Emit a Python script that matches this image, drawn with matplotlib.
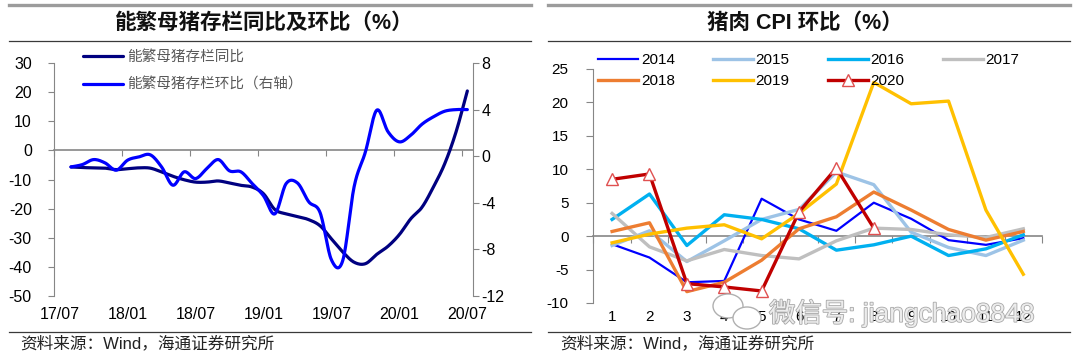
import numpy as np
import matplotlib
matplotlib.use('Agg')
import matplotlib.pyplot as plt
import matplotlib.transforms as mtransforms
from matplotlib.lines import Line2D
from matplotlib.patches import Ellipse
import matplotlib.patheffects as pe

plt.rcParams['font.family'] = ['Liberation Sans', 'Noto Sans CJK SC']
plt.rcParams['axes.unicode_minus'] = False

# ---------------- data: left chart (monthly, 17/08 .. 20/07) ----------------
left_title = '能繁母猪存栏同比及环比（%）'
months = ['17/08', '17/09', '17/10', '17/11', '17/12',
          '18/01', '18/02', '18/03', '18/04', '18/05', '18/06',
          '18/07', '18/08', '18/09', '18/10', '18/11', '18/12',
          '19/01', '19/02', '19/03', '19/04', '19/05', '19/06',
          '19/07', '19/08', '19/09', '19/10', '19/11', '19/12',
          '20/01', '20/02', '20/03', '20/04', '20/05', '20/06', '20/07']
sow_yoy = [-5.7, -5.9, -6.0, -6.1, -6.6, -6.3, -6.0, -6.1, -7.4, -8.9, -10.1,
           -10.9, -10.9, -10.5, -11.2, -12.0, -12.6, -14.9, -20.3, -21.8, -22.7,
           -23.8, -25.9, -30.4, -34.9, -38.4, -38.9, -35.7, -32.9, -28.9, -23.5,
           -19.5, -12.6, -4.6, 6.3, 20.4]
sow_mom = [-0.92, -0.72, -0.29, -0.57, -1.2, -0.34, -0.06, 0.12, -0.92, -2.49, -1.34,
           -1.92, -1.06, -0.29, -1.26, -1.34, -2.35, -3.4, -4.95, -2.35, -2.3,
           -3.92, -4.85, -8.9, -8.95, -2.63, 0.37, 3.95, 2.09, 1.23, 1.8,
           2.75, 3.38, 3.86, 4.0, 4.0]
left_series = ['能繁母猪存栏同比', '能繁母猪存栏环比（右轴）']
left_xlabels = ['17/07', '18/01', '18/07', '19/01', '19/07', '20/01', '20/07']

# ---------------- data: right chart (pork CPI mom, by month) ----------------
right_title = '猪肉 CPI 环比（%）'
cpi_months = [1, 2, 3, 4, 5, 6, 7, 8, 9, 10, 11, 12]
cpi_2014 = [-1.2, -3.2, -6.9, -6.7, 5.6, 2.5, 0.8, 5.0, 2.6, -0.6, -1.3, -0.3]
cpi_2015 = [-1.4, 0.8, -3.8, -0.7, 2.5, 4.0, 9.6, 7.7, 0.6, -1.7, -2.9, -0.6]
cpi_2016 = [2.5, 6.3, -1.4, 3.2, 2.5, 1.1, -2.1, -1.3, 0.0, -2.9, -1.9, 0.2]
cpi_2017 = [3.4, -1.6, -3.7, -2.0, -2.9, -3.4, -0.7, 1.2, 1.0, 0.2, -0.2, 1.1]
cpi_2018 = [0.7, 2.0, -8.3, -6.9, -3.6, 1.1, 2.9, 6.6, 3.9, 1.0, -0.6, 0.7]
cpi_2019 = [-1.0, 0.3, 1.2, 1.7, -0.4, 3.4, 7.8, 23.0, 19.8, 20.2, 3.9, -5.7]
cpi_2020 = [8.5, 9.3, -7.1, -7.6, -8.2, 3.6, 10.2, 1.2]
cpi_years = ['2014', '2015', '2016', '2017', '2018', '2019', '2020']

source_text = '资料来源：Wind，海通证券研究所'
watermark = '微信号: jiangchao8848'

W, H = 1080, 362
fig = plt.figure(figsize=(W / 100, H / 100), dpi=100)


def fx(px):
    return px / W


def fy(py):
    return 1 - py / H


def smooth(xs, ys, n=16):
    """Catmull-Rom rendering of a smoothed line through the given points."""
    xs = np.asarray(xs, float)
    ys = np.asarray(ys, float)
    px = np.concatenate([[2 * xs[0] - xs[1]], xs, [2 * xs[-1] - xs[-2]]])
    py = np.concatenate([[2 * ys[0] - ys[1]], ys, [2 * ys[-1] - ys[-2]]])
    ox, oy = [], []
    t = np.linspace(0, 1, n, endpoint=False)
    for i in range(1, len(px) - 2):
        for arr, out in ((px, ox), (py, oy)):
            p0, p1, p2, p3 = arr[i - 1], arr[i], arr[i + 1], arr[i + 2]
            out.extend(0.5 * ((2 * p1) + (-p0 + p2) * t +
                              (2 * p0 - 5 * p1 + 4 * p2 - p3) * t ** 2 +
                              (-p0 + 3 * p1 - 3 * p2 + p3) * t ** 3))
    ox.append(xs[-1])
    oy.append(ys[-1])
    return np.array(ox), np.array(oy)


GRAY = '#868686'

# ---------------- panel decorations ----------------
for x0, x1, title, tx in ((8.6, 531, left_title, 264), (548, 1070, right_title, 805)):
    fig.add_artist(Line2D([fx(x0), fx(x1)], [fy(5), fy(5)], color='#9c9c9c', lw=2.4))
    fig.add_artist(Line2D([fx(x0), fx(x1)], [fy(40.5), fy(40.5)], color='#3a3a3a', lw=0.9))
    fig.add_artist(Line2D([fx(x0), fx(x1)], [fy(331.5), fy(331.5)], color='#3a3a3a', lw=0.9))
    fig.text(fx(tx), fy(23), title, ha='center', va='center', fontsize=15.5,
             fontweight='bold', color='#111111')
    fig.text(fx(x0 + 12), fy(343), source_text, ha='left', va='center',
             fontsize=12, color='#222222')

# ---------------- left chart ----------------
ax = fig.add_axes([fx(54), fy(296), fx(473) - fx(54), fy(63) - fy(296)])
ax2 = ax.twinx()
xm = np.arange(1, len(months) + 1) + 0.5
ax.set_xlim(0, 37)
ax.set_ylim(-50, 30)
ax2.set_ylim(-12, 8)
ax.set_yticks(np.arange(-50, 31, 10))
ax2.set_yticks(np.arange(-12, 9, 4))
ax.set_xticks(np.arange(0, 37, 6))
ax.set_xticklabels([])

for s in ('top', 'right'):
    ax.spines[s].set_visible(False)
for s in ('top', 'left', 'bottom'):
    ax2.spines[s].set_visible(False)
ax.spines['left'].set_color(GRAY)
ax.spines['bottom'].set_color(GRAY)
ax.spines['bottom'].set_position(('data', 0))
ax.spines['bottom'].set_linewidth(1.2)
ax2.spines['right'].set_color(GRAY)
ax.tick_params(axis='y', colors=GRAY, labelcolor='black', length=4, pad=12,
               labelsize=11.5)
ax.tick_params(axis='x', colors=GRAY, length=4, direction='out')
ax2.tick_params(axis='y', colors=GRAY, labelcolor='black', length=4, pad=2,
                labelsize=11.5)

trans = mtransforms.blended_transform_factory(ax.transData, ax.transAxes)
for i, lab in enumerate(left_xlabels):
    ax.text(i * 6 + 0.5, -0.08, lab, transform=trans, ha='center', va='center',
            fontsize=11.5)

sx, sy = smooth(xm, sow_yoy)
l1, = ax.plot(sx, sy, color='#000080', lw=2.3, solid_capstyle='round', zorder=3)
sx2, sy2 = smooth(xm, sow_mom)
l2, = ax2.plot(sx2, sy2, color='#0000FF', lw=2.3, solid_capstyle='round', zorder=3)
leg = ax2.legend([l1, l2], left_series, loc='upper left',
                 bbox_to_anchor=(fx(83), fy(50)), bbox_transform=fig.transFigure,
                 frameon=False, fontsize=10.5, handlelength=2.75, handletextpad=0.3,
                 labelspacing=0.95, borderpad=0, borderaxespad=0)
for t in leg.get_texts():
    t.set_color('#595959')

# ---------------- right chart ----------------
bx = fig.add_axes([fx(593.4), fy(303), fx(1042) - fx(593.4), fy(69) - fy(303)])
bx.set_xlim(0.5, 12.5)
bx.set_ylim(-10, 25)
bx.set_yticks(np.arange(-10, 26, 5))
bx.set_xticks(np.arange(0.5, 12.6, 1))
bx.set_xticklabels([])
for s in ('top', 'right'):
    bx.spines[s].set_visible(False)
bx.spines['left'].set_color(GRAY)
bx.spines['bottom'].set_color(GRAY)
bx.spines['bottom'].set_position(('data', 0))
bx.spines['bottom'].set_linewidth(1.2)
bx.tick_params(axis='y', colors=GRAY, labelcolor='black', length=5, pad=13,
               labelsize=11)
bx.tick_params(axis='x', colors=GRAY, length=5, direction='out')
btrans = mtransforms.blended_transform_factory(bx.transData, bx.transAxes)
for m in cpi_months:
    bx.text(m, -0.06, str(m), transform=btrans, ha='center', va='center', fontsize=11)

styles = [('#0000FF', 1.6), ('#9DC3E6', 2.4), ('#00B0F0', 2.4), ('#BFBFBF', 2.4),
          ('#ED7D31', 2.4), ('#FFC000', 2.4)]
series = [cpi_2014, cpi_2015, cpi_2016, cpi_2017, cpi_2018, cpi_2019]
handles = []
for (c, lw), vals in zip(styles, series):
    h, = bx.plot(cpi_months[:len(vals)], vals, color=c, lw=lw, zorder=3)
    handles.append(h)
h20, = bx.plot(cpi_months[:len(cpi_2020)], cpi_2020, color='#C00000', lw=2.4,
               marker='^', markersize=9, markerfacecolor='white',
               markeredgecolor='#E05050', markeredgewidth=1.0, zorder=4)
handles.append(h20)
order = [0, 4, 1, 5, 2, 6, 3]
bx.legend([handles[i] for i in order], [cpi_years[i] for i in order], ncol=4,
          loc='upper left', bbox_to_anchor=(fx(598), fy(53)),
          bbox_transform=fig.transFigure, frameon=False, fontsize=11,
          handlelength=2.6, handletextpad=0.2, columnspacing=2.5,
          labelspacing=0.45, borderpad=0, borderaxespad=0)

# ---------------- watermark ----------------
wm = fig.text(fx(769), fy(313), watermark, ha='left', va='center', fontsize=19,
              color='#ececec', zorder=10,
              path_effects=[pe.withStroke(linewidth=1.2, foreground='#a8a8a8')])
for cx, cy, w, h in ((728, 306, 30, 24), (747, 318, 28, 22)):
    fig.add_artist(Ellipse((fx(cx), fy(cy)), fx(w), h / H, facecolor='white',
                           edgecolor='#b0b0b0', lw=1.0, zorder=9))

fig.savefig('out.png', dpi=100)
